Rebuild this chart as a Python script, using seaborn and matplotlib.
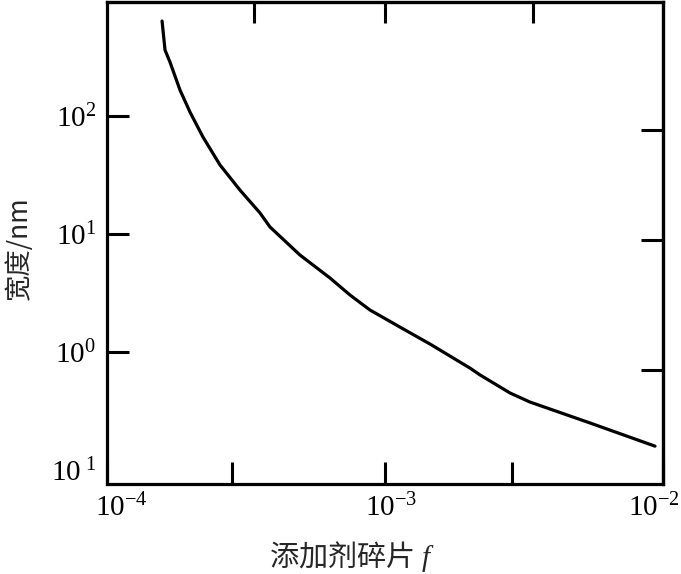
import numpy as np
import pandas as pd
import matplotlib
matplotlib.use("Agg")
import matplotlib.pyplot as plt
import matplotlib.transforms as mtransforms
import seaborn as sns
from matplotlib.ticker import FixedLocator, NullLocator, NullFormatter, FixedFormatter

# ---- data ----
fraction = [1.578e-4, 1.617e-4, 1.685e-4, 1.83e-4, 1.989e-4, 2.214e-4, 2.55e-4,
            3.009e-4, 3.55e-4, 3.858e-4, 4.945e-4, 6.34e-4, 7.48e-4, 8.83e-4,
            1.132e-3, 1.452e-3, 2.02e-3, 2.198e-3, 2.818e-3, 3.32e-3, 5.46e-3, 9.36e-3]
width_nm = [632, 359, 284, 165, 107, 65.9, 38.2, 23.4, 15.0, 11.4, 6.6, 4.22,
            3.03, 2.26, 1.62, 1.164, 0.729, 0.637, 0.448, 0.376, 0.25, 0.159]

x_ticks = [1e-4, 1e-3, 1e-2]
x_ticklabels = [r"$10^{-4}$", r"$10^{-3}$", r"$10^{-2}$"]
y_ticks = [100, 10, 1, 0.1]
y_ticklabels = [r"$10^{2}$", r"$10^{1}$", r"$10^{0}$", r"$10^{\ 1}$"]
x_minor_bottom = [2.82e-4, 2.86e-3]
x_ticks_top = [3.38e-4, 1e-3, 3.41e-3]
y_ticks_right = [75.5, 8.85, 0.70]

xlabel = "添加剂碎片 $f$"
ylabel = "宽度/nm"

df = pd.DataFrame({"f": fraction, "w": width_nm})

sns.set_theme(style="white")
plt.rcParams["font.family"] = ["Liberation Serif", "Noto Sans CJK SC", "DejaVu Sans"]
plt.rcParams["mathtext.fontset"] = "custom"
plt.rcParams["mathtext.rm"] = "Liberation Serif"
plt.rcParams["mathtext.it"] = "Liberation Serif:italic"

fig = plt.figure(figsize=(6.81, 5.74), dpi=100)
ax = fig.add_axes([107/681, 1-484/574, (663-107)/681, (484-2)/574])

sns.lineplot(data=df, x="f", y="w", color="black", lw=2.3, ax=ax, sort=False)

ax.set_xscale("log")
ax.set_yscale("log")
ax.set_xlim(1e-4, 1e-2)
ax.set_ylim(10**-1.119, 10**2.962)

ax.xaxis.set_major_locator(FixedLocator(x_ticks))
ax.xaxis.set_major_formatter(FixedFormatter(x_ticklabels))
ax.xaxis.set_minor_locator(FixedLocator(x_minor_bottom))
ax.xaxis.set_minor_formatter(NullFormatter())
ax.yaxis.set_major_locator(FixedLocator(y_ticks))
ax.yaxis.set_major_formatter(FixedFormatter(y_ticklabels))
ax.yaxis.set_minor_locator(NullLocator())

ax.tick_params(axis="both", which="both", direction="in", length=15.5, width=2.2,
               colors="black", labelsize=21, top=False, right=False,
               left=True, bottom=True)
ax.tick_params(axis="y", pad=8)
ax.tick_params(axis="x", pad=7)
# bottom label "10 1" has no tick mark in the reference
ax.yaxis.get_major_ticks()[-1].tick1line.set_visible(False)

# x tick labels sit slightly off-centre in the reference
x_offsets_px = [14, 6, -9]
for lab, dx in zip(ax.get_xticklabels(), x_offsets_px):
    lab.set_transform(lab.get_transform() +
                      mtransforms.ScaledTranslation(dx / 100, 0, fig.dpi_scale_trans))

for s in ax.spines.values():
    s.set_linewidth(2.3)
    s.set_color("black")
    s.set_visible(True)

# top and right ticks (at their own positions in the reference)
sec_x = ax.secondary_xaxis("top")
sec_x.xaxis.set_major_locator(FixedLocator(x_ticks_top))
sec_x.xaxis.set_minor_locator(NullLocator())
sec_x.tick_params(direction="in", length=15, width=2.2, labeltop=False, colors="black")
sec_x.spines["top"].set_linewidth(2.3)

sec_y = ax.secondary_yaxis("right")
sec_y.yaxis.set_major_locator(FixedLocator(y_ticks_right))
sec_y.yaxis.set_minor_locator(NullLocator())
sec_y.tick_params(direction="in", length=16, width=2.2, labelright=False, colors="black")
sec_y.spines["right"].set_linewidth(2.3)

ax.set_xlabel(xlabel, fontsize=21, family=["Noto Sans CJK SC", "Liberation Serif"])
ax.set_ylabel(ylabel, fontsize=19, family=["Noto Sans CJK SC", "Liberation Serif"])
ax.xaxis.set_label_coords(0.44, -0.115)
ax.yaxis.set_label_coords(-0.133, 0.49)

fig.savefig("out.png", dpi=100, facecolor="white")
